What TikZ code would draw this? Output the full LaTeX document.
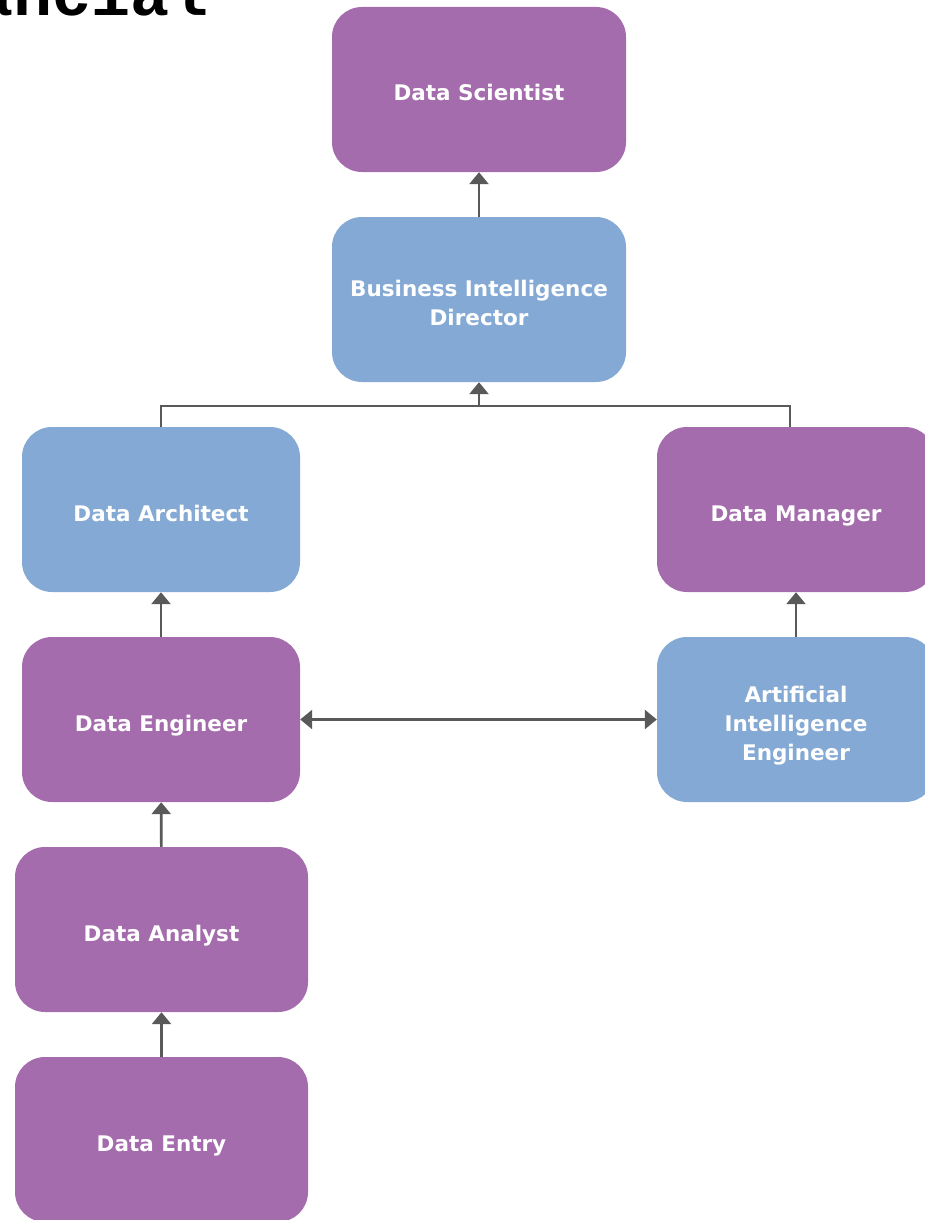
\documentclass[tikz,border=0pt]{standalone}
\usepackage{fontspec}
\setmainfont{DejaVu Sans}
\newfontfamily\headmono{Liberation Mono}
\usetikzlibrary{arrows.meta}
\definecolor{rolepurple}{HTML}{A46CAC}
\definecolor{roleblue}{HTML}{84A9D4}
\definecolor{linkgray}{HTML}{595959}
\tikzset{
  role/.style={rectangle, rounded corners=30pt, draw=none, text=white,
    font=\bfseries\fontsize{21.5}{29}\selectfont, align=center,
    minimum height=165pt, inner sep=0pt, text height=23pt, text depth=0pt},
  twolines/.style={text height=52pt},
  threelines/.style={text height=81pt},
  purplerole/.style={role, fill=rolepurple},
  bluerole/.style={role, fill=roleblue},
  link/.style={draw=linkgray, line width=2.6pt},
  tip/.style={-{Triangle[width=19pt,length=12pt]}},
  bothtip/.style={{Triangle[width=19pt,length=12pt]}-{Triangle[width=19pt,length=12pt]}},
}
\begin{document}
\begin{tikzpicture}[x=1pt, y=-1pt]
\useasboundingbox (0,0) rectangle (925,1220);
\clip (0,0) rectangle (925,1220);

% page heading running off the top edge
\node[anchor=base east, inner sep=0pt, font=\headmono\bfseries\fontsize{65}{65}\selectfont] (heading) at (209,16) {Financial};

% career roles
\node[purplerole, minimum width=294pt] (scientist) at (479,89.5) {Data Scientist};
\node[bluerole, twolines, minimum width=294pt] (bidirector) at (479,299.5) {Business Intelligence\\Director};
\node[bluerole, minimum width=278pt] (architect) at (161,509.5) {Data Architect};
\node[purplerole, minimum width=278pt] (manager) at (796,509.5) {Data Manager};
\node[purplerole, minimum width=278pt] (engineer) at (161,719.5) {Data Engineer};
\node[bluerole, threelines, minimum width=278pt] (aiengineer) at (796,719.5) {Artificial\\Intelligence\\Engineer};
\node[purplerole, minimum width=293pt] (analyst) at (161.5,929.5) {Data Analyst};
\node[purplerole, minimum width=293pt] (entry) at (161.5,1139.5) {Data Entry};

% merge point below the director
\coordinate (merge) at (bidirector.south |- 0,406);

% connectors
\draw[link, tip] (bidirector) -- (scientist);
\draw[link] (architect.north) |- (merge) -| ([xshift=-6pt]manager.north);
\draw[link, tip] (merge) -- (bidirector.south);
\draw[link, tip] (engineer) -- (architect);
\draw[link, tip] (analyst) -- (engineer);
\draw[link, tip] (entry) -- (analyst);
\draw[link, tip] (aiengineer) -- (manager);
\draw[link, bothtip] (engineer) -- (aiengineer);
\end{tikzpicture}
\end{document}
